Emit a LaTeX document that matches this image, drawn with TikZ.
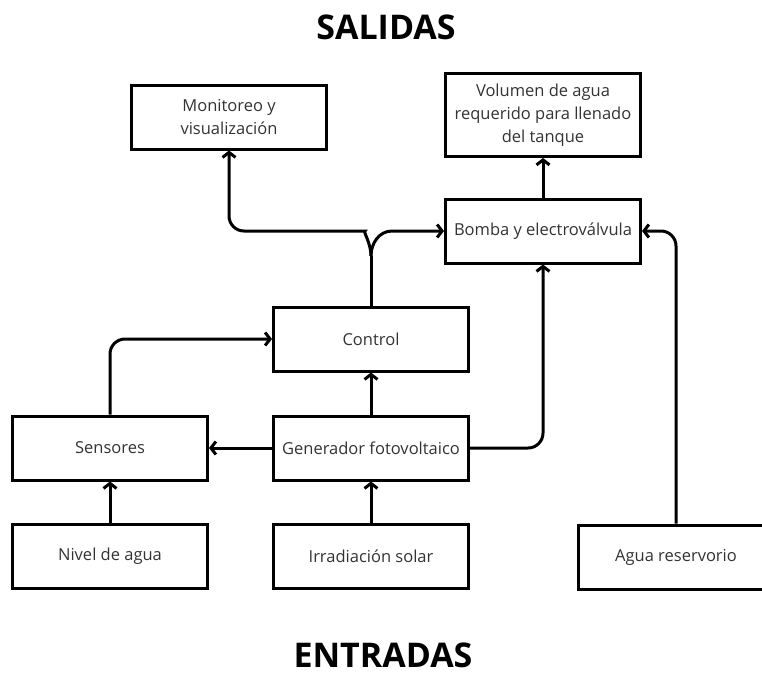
\documentclass[tikz,border=0pt]{standalone}
\usepackage{fontspec}
\setmainfont{Open Sans}
\usetikzlibrary{positioning,arrows.meta}
\tikzset{
>={Straight Barb[length=5pt,width=13pt]},
}

\begin{document}
\begin{tikzpicture}
    [x=1pt, y=-1pt,
    line width=3pt,
    node distance=42pt,
    block/.style={draw, rectangle, minimum width=195pt, minimum height=64pt,
        align=center, text=black!80, font=\fontsize{16.5}{23}\selectfont},
    title/.style={font=\bfseries\fontsize{34}{40}\selectfont}
    ]
    \useasboundingbox (0,0) rectangle (762,683);

    \node [title] (salidas) at (386,27) {SALIDAS};
    \node [title] (entradas) at (383,655) {ENTRADAS};

    \node [block] (gen) at (371,448) {Generador fotovoltaico};
    \node [block, above=of gen] (ctrl) {Control};
    \node [block, below=41pt of gen] (irr) {Irradiación solar};
    \node [block, left=63pt of gen] (sen) {Sensores};
    \node [block, below=41pt of sen] (nivel) {Nivel de agua};
    \node [block] (agua) at (676,557) {Agua reservorio};

    \node [block] (bomba) at (543,231) {Bomba y electroválvula};
    \node [block, minimum height=83pt] (vol) at (543,115)
    {
        Volumen de agua
        \\
        requerido para llenado
        \\
        del tanque
    };
    \node [block] (mon) at (229,117)
    {
        Monitoreo y
        \\
        visualización
    };

    \draw[->] (irr) -- (gen);
    \draw[->] (nivel) -- (sen);
    \draw[->] (gen) -- (ctrl);
    \draw[->] (gen) -- (sen);
    \draw[->] (bomba) -- (vol);
    \draw[->, rounded corners=15pt] (sen.north) |- (ctrl.west);
    \draw[->, rounded corners=15pt] (gen.east) -| (bomba.south);
    \draw[->, rounded corners=15pt] (agua.north) |- (bomba.east);

    % salida de control hacia arriba
    \coordinate (fork) at (371,256);
    \draw (ctrl.north) -- (fork);
    \draw[->, rounded corners=15pt] (fork) to[out=90,in=0] (350,231) -- (229,231) -- (mon.south);
    \draw[->] (fork) to[out=90,in=180] (392,231) -- (bomba.west);

\end{tikzpicture}
\end{document}
